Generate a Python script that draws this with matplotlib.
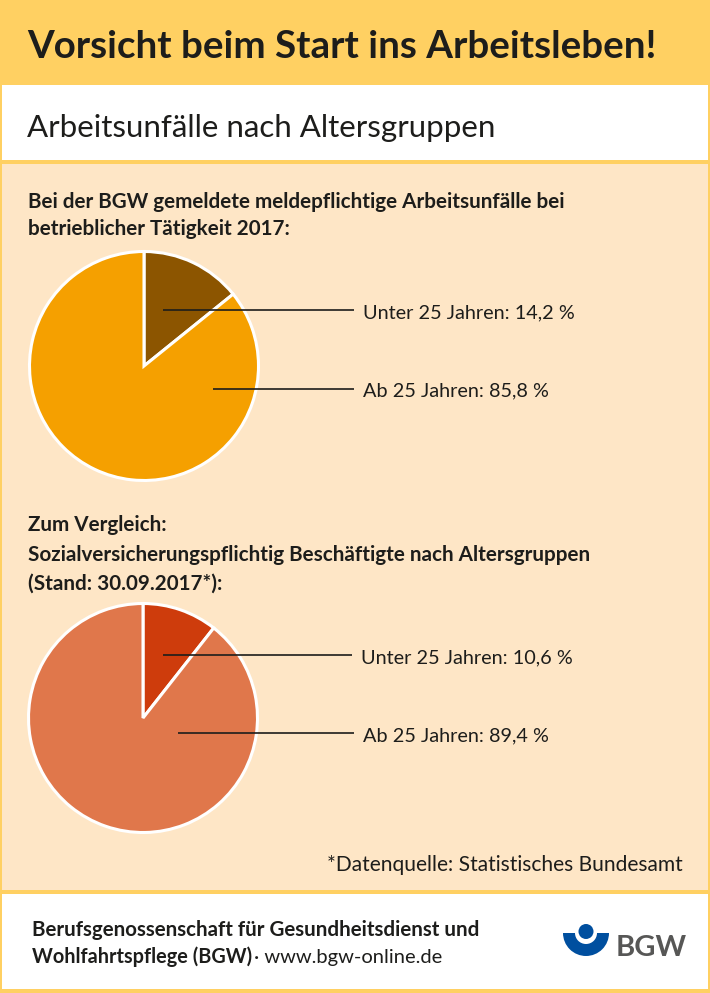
import matplotlib
matplotlib.use('Agg')
import matplotlib.pyplot as plt
from matplotlib.patches import Rectangle, Circle, Wedge

plt.rcParams['font.family'] = ['Lato', 'DejaVu Sans']

# DATA
labels_top = ['Unter 25 Jahren: 14,2 %', 'Ab 25 Jahren: 85,8 %']
values_top = [14.2, 85.8]
colors_top = ['#8C5500', '#F5A000']

labels_bottom = ['Unter 25 Jahren: 10,6 %', 'Ab 25 Jahren: 89,4 %']
values_bottom = [10.6, 89.4]
colors_bottom = ['#CE3C0C', '#E0774B']

WIDTH, HEIGHT = 710, 993
dark = '#1D1D1B'


def Y(py):
    return HEIGHT - py


fig = plt.figure(figsize=(WIDTH / 100, HEIGHT / 100), dpi=100, facecolor='#FFD062')
ax = fig.add_axes([0, 0, 1, 1])


def draw_pie(values, colors, cx, cy):
    ax.pie(values, colors=colors, startangle=90, counterclock=False,
           center=(cx, Y(cy)), radius=114.5, frame=True,
           wedgeprops={'edgecolor': 'white', 'linewidth': 2.2})


def box(x0, y0, x1, y1, color):
    ax.add_patch(Rectangle((x0, Y(y1)), x1 - x0, y1 - y0, facecolor=color, edgecolor='none', zorder=0))


def leader(x0, x1, py):
    ax.plot([x0, x1], [Y(py), Y(py)], color=dark, lw=1.2, zorder=5, solid_capstyle='butt')


box(2, 85, 708, 160, 'white')
box(2, 164, 708, 890, '#FEE6C6')
box(2, 894, 708, 989, 'white')

draw_pie(values_top, colors_top, 144, 366)
draw_pie(values_bottom, colors_bottom, 143, 718)

ax.set_xlim(0, WIDTH)
ax.set_ylim(0, HEIGHT)
ax.axis('off')

leader(163, 354, 310)
leader(213, 354, 389)
leader(163, 352, 655)
leader(178, 354, 733)

ax.text(27, Y(58), 'Vorsicht beim Start ins Arbeitsleben!', fontsize=27.7, fontweight='bold', color=dark)
ax.text(27, Y(137), 'Arbeitsunfälle nach Altersgruppen', fontsize=22.5, color=dark)

ax.text(28, Y(208), 'Bei der BGW gemeldete meldepflichtige Arbeitsunfälle bei', fontsize=14.9, fontweight='bold', color=dark)
ax.text(28, Y(235), 'betrieblicher Tätigkeit 2017:', fontsize=14.9, fontweight='bold', color=dark)
ax.text(28, Y(531), 'Zum Vergleich:', fontsize=14.9, fontweight='bold', color=dark)
ax.text(28, Y(561), 'Sozialversicherungspflichtig Beschäftigte nach Altersgruppen', fontsize=14.9, fontweight='bold', color=dark)
ax.text(28, Y(590), '(Stand: 30.09.2017*):', fontsize=14.9, fontweight='bold', color=dark)

ax.text(363, Y(318), labels_top[0], fontsize=14.3, color=dark)
ax.text(363, Y(396), labels_top[1], fontsize=14.3, color=dark)
ax.text(361, Y(663), labels_bottom[0], fontsize=14.3, color=dark)
ax.text(363, Y(741), labels_bottom[1], fontsize=14.3, color=dark)

ax.text(683, Y(871), '*Datenquelle: Statistisches Bundesamt', fontsize=15.1, color=dark, ha='right')

ax.text(32, Y(936), 'Berufsgenossenschaft für Gesundheitsdienst und', fontsize=14.8, fontweight='bold', color=dark)
ax.text(32, Y(963), 'Wohlfahrtspflege (BGW)', fontsize=14.3, fontweight='bold', color=dark)
ax.text(254, Y(963), '· www.bgw-online.de', fontsize=14.5, color=dark)

# logo
blue = '#004F9F'
ax.add_patch(Wedge((586, Y(933)), 23, 180, 360, width=12, facecolor=blue, edgecolor='none', zorder=3))
ax.add_patch(Circle((586, Y(931.5)), 7.5, facecolor=blue, edgecolor='none', zorder=3))
ax.text(616, Y(956), 'BGW', fontsize=21, fontweight='bold', color='#575756')

fig.savefig('out.png', dpi=100, facecolor=fig.get_facecolor())
